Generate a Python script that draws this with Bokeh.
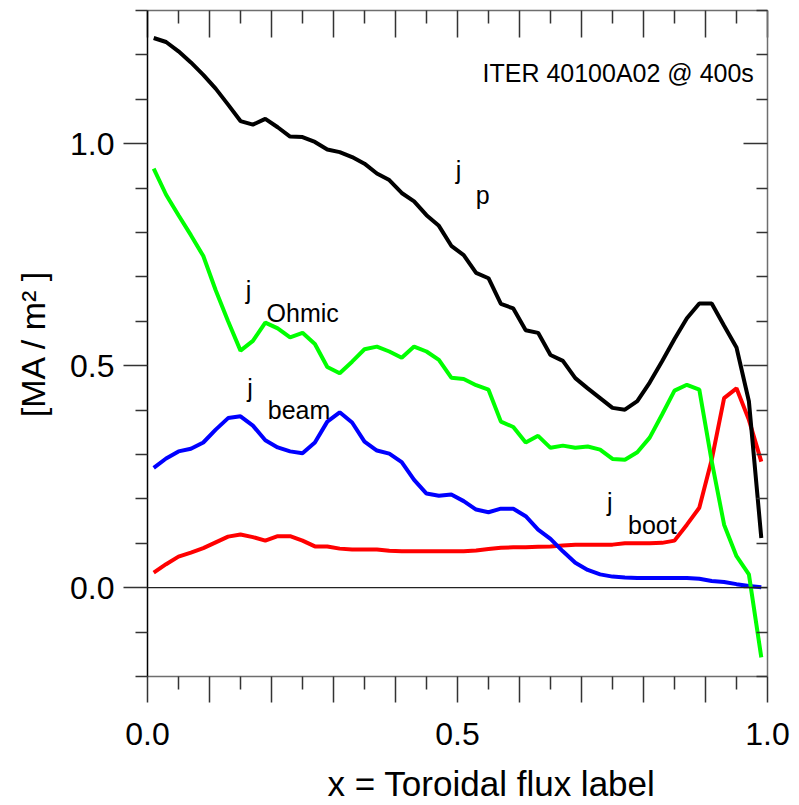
from bokeh.plotting import figure
from bokeh.models import (Range1d, LinearAxis, FixedTicker, CustomJSTickFormatter,
                          Label, Span)
from bokeh.embed import file_html
from bokeh.resources import INLINE

# ---- data -------------------------------------------------------------
x = [0.01, 0.03, 0.05, 0.07, 0.09, 0.11, 0.13, 0.15, 0.17, 0.19,
     0.21, 0.23, 0.25, 0.27, 0.29, 0.31, 0.33, 0.35, 0.37, 0.39,
     0.41, 0.43, 0.45, 0.47, 0.49, 0.51, 0.53, 0.55, 0.57, 0.59,
     0.61, 0.63, 0.65, 0.67, 0.69, 0.71, 0.73, 0.75, 0.77, 0.79,
     0.81, 0.83, 0.85, 0.87, 0.89, 0.91, 0.93, 0.95, 0.97, 0.99]

j_p = [1.238, 1.229, 1.208, 1.183, 1.155, 1.124, 1.088, 1.051, 1.043, 1.056,
       1.037, 1.016, 1.015, 1.004, 0.987, 0.981, 0.970, 0.955, 0.933, 0.918,
       0.889, 0.870, 0.839, 0.815, 0.770, 0.749, 0.709, 0.697, 0.639, 0.629,
       0.580, 0.574, 0.524, 0.511, 0.472, 0.449, 0.427, 0.405, 0.401, 0.420,
       0.462, 0.510, 0.560, 0.607, 0.640, 0.640, 0.590, 0.541, 0.420, 0.112]

j_ohmic = [0.944, 0.885, 0.839, 0.794, 0.747, 0.670, 0.600, 0.534, 0.556, 0.597,
           0.584, 0.564, 0.574, 0.549, 0.497, 0.483, 0.509, 0.537, 0.543, 0.532,
           0.518, 0.543, 0.532, 0.513, 0.473, 0.470, 0.456, 0.446, 0.374, 0.362,
           0.327, 0.342, 0.315, 0.320, 0.315, 0.318, 0.311, 0.290, 0.288, 0.305,
           0.338, 0.390, 0.444, 0.457, 0.446, 0.285, 0.142, 0.071, 0.030, -0.157]

j_beam = [0.270, 0.291, 0.307, 0.313, 0.327, 0.356, 0.382, 0.386, 0.365, 0.332,
          0.316, 0.307, 0.303, 0.327, 0.374, 0.395, 0.372, 0.329, 0.309, 0.302,
          0.283, 0.243, 0.212, 0.207, 0.210, 0.195, 0.176, 0.170, 0.178, 0.178,
          0.161, 0.131, 0.110, 0.082, 0.056, 0.040, 0.030, 0.025, 0.023, 0.022,
          0.022, 0.022, 0.022, 0.022, 0.020, 0.015, 0.013, 0.008, 0.004, 0.001]

j_boot = [0.034, 0.053, 0.070, 0.079, 0.089, 0.102, 0.115, 0.120, 0.114, 0.106,
          0.116, 0.116, 0.106, 0.093, 0.093, 0.088, 0.086, 0.086, 0.086, 0.083,
          0.082, 0.082, 0.082, 0.082, 0.082, 0.082, 0.084, 0.087, 0.090, 0.091,
          0.091, 0.092, 0.093, 0.095, 0.097, 0.097, 0.097, 0.097, 0.100, 0.100,
          0.100, 0.101, 0.106, 0.142, 0.180, 0.288, 0.427, 0.449, 0.378, 0.284]

x_major_ticks = [0.0, 0.1, 0.2, 0.3, 0.4, 0.5, 0.6, 0.7, 0.8, 0.9, 1.0]
x_minor_ticks = [0.05, 0.15, 0.25, 0.35, 0.45, 0.55, 0.65, 0.75, 0.85, 0.95]
y_major_ticks = [0.0, 0.5, 1.0]
y_minor_ticks = [-0.2, -0.1, 0.1, 0.2, 0.3, 0.4, 0.6, 0.7, 0.8, 0.9, 1.1, 1.2, 1.3]

FONT = "Liberation Sans"

# ---- figure -----------------------------------------------------------
p = figure(width=799, height=805, x_range=Range1d(0, 1), y_range=Range1d(-0.2, 1.3),
           output_backend="svg", toolbar_location=None,
           min_border_left=147, min_border_right=32, min_border_top=10,
           min_border_bottom=128)
p.grid.visible = False
p.outline_line_color = None
p.background_fill_color = "white"
p.border_fill_color = "white"

half_fmt = CustomJSTickFormatter(
    code="return Math.abs(tick*2 - Math.round(tick*2)) < 1e-9 ? tick.toFixed(1) : '';")
blank_fmt = CustomJSTickFormatter(code="return '';")

GRAY = "#6e6e6e"
TICK = "#333333"

# bottom axis
xa = p.xaxis[0]
xa.ticker = FixedTicker(ticks=x_major_ticks, minor_ticks=x_minor_ticks)
xa.formatter = half_fmt
xa.major_tick_in = 0
xa.major_tick_out = 26
xa.minor_tick_in = 0
xa.minor_tick_out = 13
xa.axis_line_color = GRAY
xa.axis_line_width = 1.5
xa.major_tick_line_color = TICK
xa.minor_tick_line_color = TICK
xa.major_tick_line_width = 1.5
xa.minor_tick_line_width = 1.5
xa.major_label_text_font = FONT
xa.major_label_text_font_size = "32px"
xa.major_label_text_color = "black"
xa.major_label_standoff = 20
# the reference title sits right of the frame centre: lead with no-break spaces
xa.axis_label = "\u00a0" * 7 + "x = Toroidal flux label"
xa.axis_label_text_font = FONT
xa.axis_label_text_font_size = "35px"
xa.axis_label_text_font_style = "normal"
xa.axis_label_text_color = "black"
xa.axis_label_standoff = 16

# left axis
ya = p.yaxis[0]
ya.ticker = FixedTicker(ticks=y_major_ticks, minor_ticks=y_minor_ticks)
ya.formatter = half_fmt
ya.major_tick_in = 0
ya.major_tick_out = 24
ya.minor_tick_in = 0
ya.minor_tick_out = 12
ya.axis_line_color = "black"
ya.axis_line_width = 1.5
ya.major_tick_line_color = TICK
ya.minor_tick_line_color = TICK
ya.major_tick_line_width = 1.5
ya.minor_tick_line_width = 1.5
ya.major_label_text_font = FONT
ya.major_label_text_font_size = "32px"
ya.major_label_text_color = "black"
ya.major_label_standoff = 9
ya.axis_label = "[MA / m\u00b2 ]"
ya.axis_label_text_font = FONT
ya.axis_label_text_font_size = "34px"
ya.axis_label_text_font_style = "normal"
ya.axis_label_text_color = "black"
ya.axis_label_standoff = 15

# top axis (inward ticks)
top = LinearAxis(ticker=FixedTicker(ticks=x_major_ticks, minor_ticks=x_minor_ticks),
                 formatter=blank_fmt, major_label_text_font_size="0px",
                 major_label_standoff=0, major_tick_in=27, major_tick_out=0,
                 minor_tick_in=13, minor_tick_out=0, axis_line_color=GRAY,
                 axis_line_width=1.5, major_tick_line_color=TICK,
                 minor_tick_line_color=TICK, major_tick_line_width=1.5,
                 minor_tick_line_width=1.5)
p.add_layout(top, "above")

# right axis (inward ticks)
right = LinearAxis(ticker=FixedTicker(ticks=y_major_ticks, minor_ticks=y_minor_ticks),
                   formatter=blank_fmt, major_label_text_font_size="0px",
                   major_label_standoff=0, major_tick_in=24, major_tick_out=0,
                   minor_tick_in=11, minor_tick_out=0, axis_line_color=GRAY,
                   axis_line_width=1.5, major_tick_line_color=TICK,
                   minor_tick_line_color=TICK, major_tick_line_width=1.5,
                   minor_tick_line_width=1.5)
p.add_layout(right, "right")

# zero line
p.add_layout(Span(location=0, dimension="width", line_color="#222222", line_width=1.2))

# curves
p.line(x, j_boot, line_color="#ff0000", line_width=4)
p.line(x, j_beam, line_color="#0000ff", line_width=4)
p.line(x, j_ohmic, line_color="#00ff00", line_width=4)
p.line(x, j_p, line_color="#000000", line_width=4)

# annotations
def lab(xv, yv, txt, align="left"):
    p.add_layout(Label(x=xv, y=yv, text=txt, text_font=FONT, text_font_size="25px",
                       text_color="black", text_align=align,
                       text_baseline="alphabetic"))

lab(0.978, 1.160, "ITER 40100A02 @ 400s", "right")
lab(0.497, 0.940, "j")
lab(0.5295, 0.884, "p")
lab(0.1585, 0.670, "j")
lab(0.192, 0.619, "Ohmic")
lab(0.161, 0.450, "j")
lab(0.194, 0.401, "beam")
lab(0.741, 0.192, "j")
lab(0.775, 0.142, "boot")

open("out.html", "w").write(file_html(p, INLINE))
